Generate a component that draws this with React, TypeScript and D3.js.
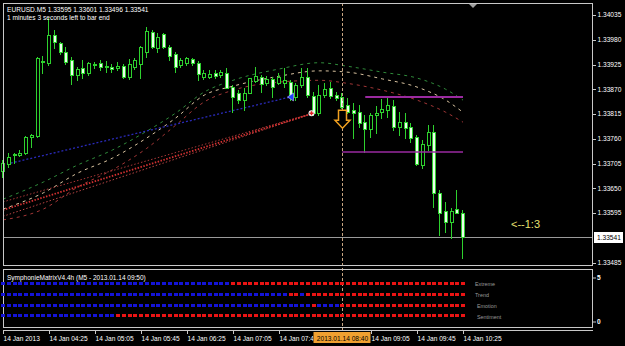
import React from "react";
import * as d3 from "d3";

const symbolHeader = "EURUSD.M5  1.33595 1.33601 1.33496 1.33541";
const timerText = "1 minutes 3 seconds left to bar end";
const indicatorTitle = "SymphonieMatrixV4.4h (M5 - 2013.01.14 09:50)";
const ratioText = "<--1:3";

const openP = [1.33688,1.33704,1.33724,1.33724,1.33728,1.33764,1.33766,1.33930,1.33928,1.33990,
1.33973,1.33953,1.33935,1.33901,1.33917,1.33906,1.33924,1.33928,1.33919,1.33919,
1.33917,1.33921,1.33897,1.33919,1.33926,1.33953,1.33997,1.33961,1.33993,1.33964,
1.33948,1.33924,1.33928,1.33937,1.33928,1.33897,1.33897,1.33906,1.33901,1.33906,
1.33875,1.33862,1.33846,1.33862,1.33888,1.33897,1.33884,1.33893,1.33884,1.33884,
1.33886,1.33853,1.33879,1.33897,1.33855,1.33817,1.33857,1.33873,1.33857,1.33853,
1.33835,1.33824,1.33819,1.33797,1.33782,1.33813,1.33819,1.33824,1.33833,1.33786,
1.33797,1.33786,1.33764,1.33702,1.33746,1.33775,1.33640,1.33600,1.33575,1.33604,
1.33595];
const highP = [1.33713,1.33728,1.33728,1.33735,1.33766,1.33771,1.33941,1.33944,1.34028,1.34001,
1.33975,1.33964,1.33941,1.33919,1.33935,1.33930,1.33930,1.33935,1.33933,1.33926,
1.33930,1.33926,1.33937,1.33939,1.33966,1.34008,1.34001,1.33995,1.33995,1.33968,
1.33953,1.33939,1.33941,1.33939,1.33933,1.33913,1.33913,1.33913,1.33913,1.33917,
1.33879,1.33868,1.33873,1.33895,1.33919,1.33901,1.33899,1.33897,1.33906,1.33917,
1.33890,1.33884,1.33917,1.33917,1.33864,1.33879,1.33884,1.33886,1.33864,1.33862,
1.33850,1.33839,1.33835,1.33813,1.33817,1.33833,1.33848,1.33853,1.33846,1.33819,
1.33817,1.33795,1.33768,1.33757,1.33790,1.33790,1.33646,1.33620,1.33606,1.33646,
1.33601];
const lowP = [1.33675,1.33697,1.33706,1.33722,1.33726,1.33742,1.33764,1.33906,1.33924,1.33961,
1.33948,1.33926,1.33882,1.33890,1.33895,1.33901,1.33917,1.33913,1.33908,1.33908,
1.33913,1.33895,1.33893,1.33915,1.33895,1.33941,1.33961,1.33953,1.33961,1.33935,
1.33908,1.33919,1.33924,1.33924,1.33890,1.33893,1.33895,1.33895,1.33897,1.33873,
1.33819,1.33839,1.33824,1.33862,1.33886,1.33864,1.33879,1.33853,1.33882,1.33875,
1.33846,1.33846,1.33875,1.33853,1.33813,1.33813,1.33853,1.33850,1.33846,1.33828,
1.33817,1.33762,1.33786,1.33731,1.33764,1.33773,1.33806,1.33808,1.33779,1.33768,
1.33762,1.33753,1.33702,1.33695,1.33735,1.33608,1.33546,1.33553,1.33540,1.33595,
1.33496];
const closeP = [1.33706,1.33719,1.33726,1.33728,1.33764,1.33768,1.33939,1.33933,1.33990,1.33975,
1.33953,1.33930,1.33901,1.33915,1.33906,1.33928,1.33926,1.33919,1.33921,1.33915,
1.33921,1.33897,1.33926,1.33935,1.33964,1.33999,1.33964,1.33986,1.33964,1.33944,
1.33919,1.33935,1.33939,1.33928,1.33904,1.33906,1.33904,1.33899,1.33908,1.33873,
1.33853,1.33846,1.33862,1.33895,1.33899,1.33882,1.33893,1.33875,1.33897,1.33890,
1.33853,1.33879,1.33897,1.33857,1.33817,1.33857,1.33870,1.33855,1.33850,1.33830,
1.33819,1.33817,1.33795,1.33782,1.33813,1.33817,1.33826,1.33835,1.33786,1.33797,
1.33784,1.33762,1.33704,1.33748,1.33775,1.33640,1.33595,1.33575,1.33600,1.33595,
1.33541];

const maIdx = [0,7,13,19,25,30,35,40,48,55,60,66,72,77,80];
const maGreen = [1.33626,1.33664,1.33702,1.33735,1.33777,1.33817,1.33864,1.33890,1.33915,1.33929,1.33921,1.33908,1.33895,1.33870,1.33846];
const maTan = [1.33604,1.33640,1.33684,1.33717,1.33762,1.33806,1.33857,1.33877,1.33899,1.33911,1.33908,1.33893,1.33875,1.33846,1.33819];
const maRed = [1.33580,1.33604,1.33653,1.33691,1.33739,1.33790,1.33842,1.33868,1.33886,1.33890,1.33883,1.33868,1.33846,1.33819,1.33797];

const blueTrendIdx = [0, 50];
const blueTrendPrice = [1.33702, 1.33853];
const redTrendIdx = [0, 54];
const redTrendPrice = [1.33602, 1.33817];
const redTrendUpper = [1.33620, 1.33817];
const redTrendLower = [1.33588, 1.33817];

const upperLevel = 1.33853;
const upperLevelIdx = [63, 80];
const lowerLevel = 1.33731;
const lowerLevelIdx = [59, 80];

const signalIdx = 59;
const currentPrice = 1.33541;
const currentPriceLabel = "1.33541";

const priceTicks = [1.34035, 1.3398, 1.33925, 1.3387, 1.33815, 1.3376, 1.33705, 1.3365, 1.33595, 1.33485];
const timeTickIdx = [0, 8, 16, 24, 32, 40, 48, 64, 72, 80];
const timeTickLabels = ["14 Jan 2013","14 Jan 04:25","14 Jan 05:05","14 Jan 05:45","14 Jan 06:25","14 Jan 07:05","14 Jan 07:45","14 Jan 09:05","14 Jan 09:45","14 Jan 10:25"];
const cursorTimeLabel = "2013.01.14 08:40";

const signalRows = ["Extreme", "Trend", "Emotion", "Sentiment"];
const extremeRuns: [string, number][] = [["B", 40], ["R", 41]];
const trendRuns: [string, number][] = [["B", 50], ["R", 2], ["B", 1], ["R", 28]];
const emotionRuns: [string, number][] = [["B", 54], ["R", 1], ["B", 4], ["R", 22]];
const sentimentRuns: [string, number][] = [["B", 20], ["R", 61]];
const subTicks = [5, 0];

const FONT = "Liberation Sans, Arial, sans-serif";

function expand(runs: [string, number][]) {
  const out: string[] = [];
  runs.forEach(([c, n]) => { for (let k = 0; k < n; k++) out.push(c); });
  return out;
}

export default function App() {
  const xs = d3.scaleLinear().domain([0, 80]).range([3, 463]);
  const ys = d3.scaleLinear().domain([1.33485, 1.34035]).range([262.7, 15]);
  const ySub = d3.scaleLinear().domain([0, 5]).range([322, 278]);
  const yRow = d3.scalePoint<string>().domain(signalRows).range([283.6, 315.8]);
  const cx = (i: number) => Math.round(xs(i));

  const maLine = d3.line<number>().x((_, k) => xs(maIdx[k])).y((d) => ys(d)).curve(d3.curveMonotoneX);
  const seg = (idx: number[], pr: number[]) =>
    d3.line<number>().x((_, k) => xs(idx[k])).y((d) => ys(d))(pr) as string;

  const rows = [extremeRuns, trendRuns, emotionRuns, sentimentRuns].map(expand);

  const vx = cx(signalIdx) + 0.5;
  const arrowTop = ys(lowP[signalIdx]) + 2;
  const arrowPts = [
    [vx - 4, arrowTop], [vx + 4, arrowTop], [vx + 4, arrowTop + 10], [vx + 7.5, arrowTop + 10],
    [vx, arrowTop + 18], [vx - 7.5, arrowTop + 10], [vx - 4, arrowTop + 10],
  ].map((p) => p.join(",")).join(" ");

  const bx = xs(50), by = ys(blueTrendPrice[1]);
  const rx = xs(54) - 2, ry = ys(redTrendPrice[1]);
  const cpY = Math.round(ys(currentPrice)) + 0.5;
  const boxL = vx - 29;

  return (
    <svg width={625} height={346} style={{ position: "absolute", left: 0, top: 0, background: "#000" }}
      fontFamily={FONT}>
      <defs>
        <clipPath id="timeClip">
          <rect x={0} y={330} width={boxL} height={16} />
        </clipPath>
      </defs>
      <rect x={0} y={0} width={625} height={346} fill="#000" />

      {/* moving average envelopes */}
      <path d={maLine(maGreen) as string} fill="none" stroke="#2f8a3a" strokeWidth={1} strokeDasharray="3,4" />
      <path d={maLine(maTan) as string} fill="none" stroke="#d9c3a0" strokeWidth={1} strokeDasharray="3,4" />
      <path d={maLine(maRed) as string} fill="none" stroke="#a23636" strokeWidth={1} strokeDasharray="3,4" />

      {/* trend lines */}
      <path d={seg(blueTrendIdx, blueTrendPrice)} fill="none" stroke="#2a2ab8" strokeWidth={1.3} strokeDasharray="2,2" />
      <path d={seg(redTrendIdx, redTrendUpper)} fill="none" stroke="#a83838" strokeWidth={1} strokeDasharray="1.5,2" />
      <path d={seg(redTrendIdx, redTrendLower)} fill="none" stroke="#b84444" strokeWidth={1} strokeDasharray="1.5,2" />
      <path d={seg(redTrendIdx, redTrendPrice)} fill="none" stroke="#d03030" strokeWidth={1.8} strokeDasharray="1.5,1.5" />

      {/* current price line */}
      <line x1={3} x2={593} y1={cpY} y2={cpY} stroke="#9a9a9a" strokeWidth={1} />

      {/* candles */}
      <g shapeRendering="crispEdges">
        {openP.map((o, i) => {
          const c = closeP[i];
          const x = cx(i);
          const top = Math.round(ys(Math.max(o, c)));
          const bot = Math.round(ys(Math.min(o, c)));
          const hi = Math.round(ys(highP[i]));
          const lo = Math.round(ys(lowP[i]));
          const bear = c < o;
          const h = Math.max(1, bot - top + 1);
          return (
            <g key={i}>
              <rect x={x - 1} y={hi} width={1} height={Math.max(1, lo - hi + 1)} fill="#2ed12e" />
              <rect x={x - 2} y={top} width={4} height={h} fill="#2ed12e" />
              {h > 2 && (
                <rect x={x - 1} y={top + 1} width={2} height={h - 2} fill={bear ? "#eaffea" : "#000"} />
              )}
            </g>
          );
        })}
      </g>

      {/* horizontal levels */}
      <line x1={xs(upperLevelIdx[0])} x2={xs(upperLevelIdx[1])} y1={ys(upperLevel)} y2={ys(upperLevel)} stroke="#9a2aa0" strokeWidth={2} />
      <line x1={xs(lowerLevelIdx[0])} x2={xs(lowerLevelIdx[1])} y1={ys(lowerLevel)} y2={ys(lowerLevel)} stroke="#9a2aa0" strokeWidth={1.5} />

      {/* markers */}
      <polygon points={`${bx - 3},${by} ${bx + 3},${by - 4} ${bx + 3},${by + 4}`} fill="#2040ff" stroke="#c8c8ff" strokeWidth={0.6} />
      <circle cx={rx} cy={ry} r={3} fill="#f4f4f4" />
      <path d={`M${rx - 2},${ry}H${rx + 2}M${rx},${ry - 2}V${ry + 2}`} stroke="#e02020" strokeWidth={1.5} />

      {/* vertical cursor line */}
      <line x1={vx} x2={vx} y1={3} y2={330} stroke="#c8a682" strokeWidth={1} strokeDasharray="3,2" />
      <polygon points={arrowPts} fill="#000" stroke="#f0a020" strokeWidth={1.5} />

      {/* frames */}
      <g shapeRendering="crispEdges" fill="none" stroke="#c8c8c8" strokeWidth={1}>
        <rect x={3.5} y={3.5} width={589} height={262} />
        <rect x={3.5} y={269.5} width={589} height={57.5} />
        <line x1={3} x2={593} y1={330.5} y2={330.5} />
      </g>
      <polygon points="469,4 477,4 473,8" fill="#a0a0a0" />

      {/* header texts */}
      <text x={7} y={12} fill="#fff" fontSize={6.6}>{symbolHeader}</text>
      <text x={7} y={20} fill="#fff" fontSize={6.6}>{timerText}</text>
      <text x={511} y={228} fill="#e8e070" fontSize={11}>{ratioText}</text>

      {/* price axis */}
      <g fontSize={6.6} fill="#fff">
        {priceTicks.map((p) => (
          <g key={p}>
            <line x1={593} x2={596} y1={Math.round(ys(p)) + 0.5} y2={Math.round(ys(p)) + 0.5} stroke="#c8c8c8" />
            <text x={597.5} y={ys(p)} dy="0.35em">{p.toFixed(5)}</text>
          </g>
        ))}
      </g>
      <rect x={594} y={cpY - 5.5} width={29} height={11} fill="#fff" />
      <text x={597} y={cpY} dy="0.35em" fontSize={6.6} fill="#000">{currentPriceLabel}</text>

      {/* indicator subwindow */}
      <g shapeRendering="crispEdges">
        {rows.map((r, ri) =>
          r.map((c, i) => (
            <rect key={ri + "-" + i} x={cx(i) - 2} y={Math.round((yRow(signalRows[ri]) as number) - 1.5)} width={4} height={3}
              fill={c === "B" ? "#1414d8" : "#ea1414"} />
          ))
        )}
      </g>
      <text x={7} y={279.5} fill="#fff" fontSize={6.5}>{indicatorTitle}</text>
      <g fontSize={5.4} fill="#9a9a9a">
        {signalRows.map((s, k) => (
          <text key={s} x={k < 2 ? 475 : 477} y={(yRow(s) as number) + 1} dy="0.35em">{s}</text>
        ))}
      </g>
      <g fontSize={6.6} fill="#fff" fontWeight="bold">
        {subTicks.map((t) => (
          <g key={t}>
            <line x1={593} x2={596} y1={ySub(t)} y2={ySub(t)} stroke="#c8c8c8" />
            <text x={597} y={ySub(t)} dy="0.35em">{t}</text>
          </g>
        ))}
      </g>

      {/* time axis */}
      <g fontSize={6.6} fill="#fff">
        {timeTickIdx.map((ti, k) => (
          <g key={ti}>
            <line x1={cx(ti) + 0.5} x2={cx(ti) + 0.5} y1={330} y2={334} stroke="#c8c8c8" />
            <text x={cx(ti) + 0.5} y={341} clipPath={ti < signalIdx && cx(ti) + 40 > boxL ? "url(#timeClip)" : undefined}>
              {timeTickLabels[k]}
            </text>
          </g>
        ))}
      </g>
      <rect x={boxL} y={332} width={57} height={11} fill="#f0a030" />
      <text x={vx} y={340.5} textAnchor="middle" fontSize={6.6} fill="#000">{cursorTimeLabel}</text>
    </svg>
  );
}
